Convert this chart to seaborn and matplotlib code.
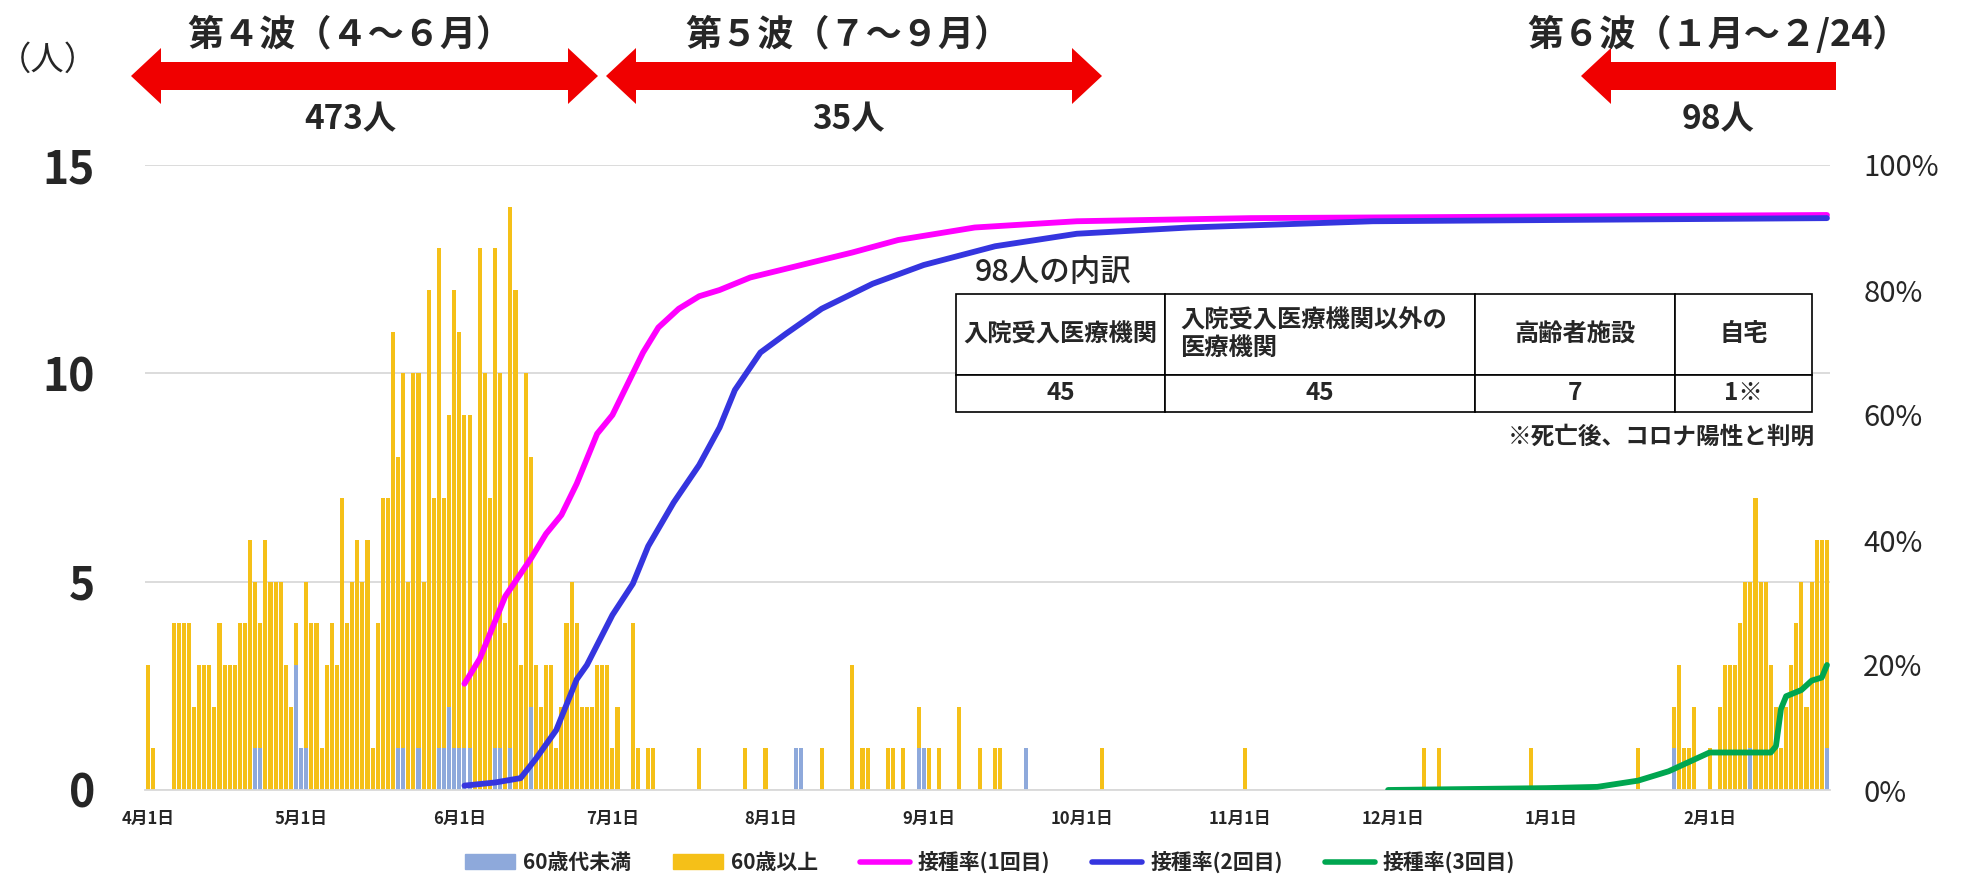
import numpy as np
import pandas as pd
import seaborn as sns
import matplotlib.pyplot as plt
from matplotlib.patches import Patch, Polygon
from matplotlib.lines import Line2D
from matplotlib.table import Table

# ---- data ----
start = pd.Timestamp("2021-04-01")
end = pd.Timestamp("2022-02-24")

# daily deaths, Apr 1 - Jun 30 (total of both age groups)
apr_jun_total = [3, 1, 0, 0, 0, 4, 4, 4, 4, 2,
                 3, 3, 3, 2, 4, 3, 3, 3, 4, 4,
                 6, 5, 4, 6, 5, 5, 5, 3, 2, 4,
                 1, 5, 4, 4, 1, 3, 4, 3, 7, 4,
                 5, 6, 5, 6, 1, 4, 7, 7, 11, 8,
                 10, 5, 10, 10, 5, 12, 7, 13, 7, 9,
                 12, 11, 9, 9, 3, 13, 10, 7, 13, 10,
                 4, 14, 12, 3, 10, 8, 3, 2, 3, 3,
                 1, 2, 4, 5, 4, 2, 2, 2, 3, 3, 3]

# sparse days from July to January
sparse_dates = ["2021-07-01", "2021-07-02", "2021-07-05", "2021-07-06", "2021-07-08",
                "2021-07-09", "2021-07-18", "2021-07-27", "2021-07-31", "2021-08-06",
                "2021-08-07", "2021-08-11", "2021-08-17", "2021-08-19", "2021-08-20",
                "2021-08-24", "2021-08-25", "2021-08-27", "2021-08-30", "2021-08-31",
                "2021-09-01", "2021-09-03", "2021-09-07", "2021-09-11", "2021-09-14",
                "2021-09-15", "2021-09-20", "2021-10-05", "2021-11-02", "2021-12-07",
                "2021-12-10", "2021-12-28", "2022-01-18", "2022-01-25", "2022-01-26",
                "2022-01-27", "2022-01-28", "2022-01-29"]
sparse_total = [1, 2, 4, 1, 1,
                1, 1, 1, 1, 1,
                1, 1, 3, 1, 1,
                1, 1, 1, 2, 1,
                1, 1, 2, 1, 1,
                1, 1, 1, 1, 1,
                1, 1, 1, 2, 3,
                1, 1, 2]

# Feb 1 - Feb 24
feb_total = [1, 0, 2, 3, 3, 3, 4, 5, 5, 7, 5, 5, 3, 2, 1, 2, 3, 4, 5, 2, 5, 6, 6, 6]

# under 60 (bottom part of the stacked bars)
under60_dates = ["2021-04-22", "2021-04-23", "2021-04-30", "2021-05-01", "2021-05-02",
                 "2021-05-20", "2021-05-21", "2021-05-24", "2021-05-28", "2021-05-29",
                 "2021-05-30", "2021-05-31", "2021-06-01", "2021-06-02", "2021-06-03",
                 "2021-06-08", "2021-06-09", "2021-06-11", "2021-06-15", "2021-08-06",
                 "2021-08-07", "2021-08-30", "2021-08-31", "2021-09-20", "2022-01-25",
                 "2022-02-09", "2022-02-24"]
under60_counts = [1, 1, 3, 1, 1,
                  1, 1, 1, 1, 1,
                  2, 1, 1, 1, 1,
                  1, 1, 1, 2, 1,
                  1, 1, 1, 1, 1,
                  1, 1]

# vaccination rate (%)
dose1_dates = ["2021-06-02", "2021-06-05", "2021-06-10", "2021-06-15", "2021-06-18",
               "2021-06-21", "2021-06-24", "2021-06-28", "2021-07-01", "2021-07-04",
               "2021-07-07", "2021-07-10", "2021-07-14", "2021-07-18", "2021-07-22",
               "2021-07-28", "2021-08-07", "2021-08-17", "2021-08-26", "2021-09-10",
               "2021-09-30", "2021-11-03", "2022-02-24"]
dose1_pct = [17, 21, 31, 37, 41, 44, 49, 57, 60, 65, 70, 74, 77, 79, 80, 82, 84, 86,
             88, 90, 91, 91.5, 92]

dose2_dates = ["2021-06-02", "2021-06-08", "2021-06-13", "2021-06-16", "2021-06-20",
               "2021-06-24", "2021-06-26", "2021-07-01", "2021-07-05", "2021-07-08",
               "2021-07-13", "2021-07-18", "2021-07-22", "2021-07-25", "2021-07-30",
               "2021-08-04", "2021-08-11", "2021-08-21", "2021-08-31", "2021-09-14",
               "2021-09-30", "2021-10-22", "2021-11-27", "2022-02-24"]
dose2_pct = [0.7, 1.2, 1.9, 5, 9.6, 17.7, 20, 28, 33, 39, 46, 52, 58, 64, 70, 73, 77,
             81, 84, 87, 89, 90, 91, 91.5]

dose3_dates = ["2021-11-30", "2021-12-31", "2022-01-10", "2022-01-18", "2022-01-24",
               "2022-01-28", "2022-02-01", "2022-02-13", "2022-02-14", "2022-02-15",
               "2022-02-16", "2022-02-19", "2022-02-21", "2022-02-23", "2022-02-24"]
dose3_pct = [0, 0.3, 0.5, 1.5, 3, 4.5, 6, 6, 7, 13, 15, 16, 17.5, 18, 20]

tick_dates = ["2021-04-01", "2021-05-01", "2021-06-01", "2021-07-01", "2021-08-01",
              "2021-09-01", "2021-10-01", "2021-11-01", "2021-12-01", "2022-01-01",
              "2022-02-01"]
tick_labels = ["4月1日", "5月1日", "6月1日", "7月1日", "8月1日", "9月1日",
               "10月1日", "11月1日", "12月1日", "1月1日", "2月1日"]

table_title = "98人の内訳"
table_headers = ["入院受入医療機関", "入院受入医療機関以外の\n医療機関", "高齢者施設", "自宅"]
table_values = ["45", "45", "7", "1※"]

# ---- build daily frame ----
days = pd.date_range(start, end)
total = pd.Series(0, index=days)
total.iloc[:91] = apr_jun_total
total[pd.to_datetime(sparse_dates)] = sparse_total
total[pd.date_range("2022-02-01", periods=len(feb_total))] = feb_total
under = pd.Series(0, index=days)
under[pd.to_datetime(under60_dates)] = under60_counts
df = pd.DataFrame({"day": np.arange(len(days)), "total": total.values, "under60": under.values})


def to_day(dates):
    return (pd.to_datetime(dates) - start).days


GOLD = "#F5C018"
LBLUE = "#8EA9DB"
PINK = "#FF00FF"
BLUE = "#3535DF"
GREEN = "#00A650"

sns.set_style("white")
plt.rcParams["font.family"] = ["Noto Sans CJK JP", "DejaVu Sans"]

W, H = 1961, 882
fig = plt.figure(figsize=(W / 100, H / 100), dpi=100)
ax = fig.add_axes([145 / W, 1 - 790 / H, (1830 - 145) / W, (790 - 165) / H])

sns.barplot(data=df, x="day", y="total", color=GOLD, saturation=1, width=0.8,
            native_scale=True, errorbar=None, linewidth=0, ax=ax)
sns.barplot(data=df, x="day", y="under60", color=LBLUE, saturation=1, width=0.8,
            native_scale=True, errorbar=None, linewidth=0, ax=ax)

ax.set_ylim(0, 15)
ax.set_yticks([0, 5, 10, 15])
ax.yaxis.grid(True, color="#d9d9d9", linewidth=1.3)
ax.set_axisbelow(True)
ax.tick_params(axis="y", length=0, pad=36, labelsize=32)
for t in ax.get_yticklabels():
    t.set_fontweight("bold")
ax.set_xticks(to_day(tick_dates))
ax.set_xticklabels(tick_labels, fontsize=12, fontweight="bold")
ax.tick_params(axis="x", length=0, pad=14)
ax.set_xlabel("")
ax.set_ylabel("")
for s in ["top", "left", "right"]:
    ax.spines[s].set_visible(False)
ax.spines["bottom"].set_color("#d9d9d9")
ax.spines["bottom"].set_linewidth(1.3)

ax2 = ax.twinx()
for dates, pct, col in [(dose1_dates, dose1_pct, PINK),
                        (dose2_dates, dose2_pct, BLUE),
                        (dose3_dates, dose3_pct, GREEN)]:
    d = pd.DataFrame({"day": to_day(dates), "pct": pct})
    sns.lineplot(data=d, x="day", y="pct", color=col, linewidth=4.2, ax=ax2)
ax2.set_ylim(0, 100)
ax2.set_yticks(range(0, 101, 20))
ax2.set_yticklabels([f"{v}%" for v in range(0, 101, 20)])
ax2.tick_params(axis="y", length=0, pad=24, labelsize=21)
ax2.set_ylabel("")
for s in ax2.spines.values():
    s.set_visible(False)
ax.set_xlim(-0.6, len(days) - 0.4)

# ---- table ----
col_w = [209, 310, 200, 137]
tx0, tx1, ty0, ty1 = 956, 1812, 294, 412
ax_l, ax_r, ax_t, ax_b = 145, 1830, 165, 790
bbox = [(tx0 - ax_l) / (ax_r - ax_l), (ax_b - ty1) / (ax_b - ax_t),
        (tx1 - tx0) / (ax_r - ax_l), (ty1 - ty0) / (ax_b - ax_t)]
tbl = Table(ax2, bbox=bbox)
for j in range(len(table_headers)):
    c = tbl.add_cell(0, j, width=col_w[j], height=81, text=table_headers[j],
                     loc="left" if j == 1 else "center", facecolor="white", edgecolor="black")
    c.PAD = 0.05
    tbl.add_cell(1, j, width=col_w[j], height=37, text=table_values[j],
                 loc="center", facecolor="white", edgecolor="black")
tbl.auto_set_font_size(False)
tbl.set_fontsize(17.5)
for c in tbl.get_celld().values():
    c.get_text().set_fontweight("bold")
    c.set_linewidth(1.2)
ax2.add_table(tbl)

fig.text(975 / W, 1 - 272 / H, table_title, fontsize=22, fontweight="medium",
         ha="left", va="center")
fig.text(1815 / W, 1 - 437 / H, "※死亡後、コロナ陽性と判明", fontsize=17,
         fontweight="bold", ha="right", va="center")


# ---- wave arrows ----
def arrow(x0, x1, y, left=True, right=True, body=14, head=28, hl=30):
    pts = []
    if left:
        pts += [(x0, y), (x0 + hl, y - head), (x0 + hl, y - body)]
    else:
        pts += [(x0, y - body)]
    if right:
        pts += [(x1 - hl, y - body), (x1 - hl, y - head), (x1, y),
                (x1 - hl, y + head), (x1 - hl, y + body)]
    else:
        pts += [(x1, y - body), (x1, y + body)]
    if left:
        pts += [(x0 + hl, y + body), (x0 + hl, y + head)]
    else:
        pts += [(x0, y + body)]
    pts = [(px / W, 1 - py / H) for px, py in pts]
    fig.add_artist(Polygon(pts, closed=True, facecolor="#F00000", edgecolor="none",
                           transform=fig.transFigure))


arrow(131, 598, 76)
arrow(606, 1102, 76)
arrow(1581, 1836, 76, right=False)

waves = [("第４波（４～６月）", "473人", 350), ("第５波（７～９月）", "35人", 848),
         ("第６波（１月～２/24）", "98人", 1718)]
for title, count, xc in waves:
    fig.text(xc / W, 1 - 35 / H, title, fontsize=26, fontweight="bold", ha="center", va="center")
    fig.text(xc / W, 1 - 120 / H, count, fontsize=24, fontweight="bold", ha="center", va="center")
fig.text(48 / W, 1 - 60 / H, "（人）", fontsize=24, ha="center", va="center")

# ---- legend ----
handles = [Patch(color=LBLUE, label="60歳代未満"),
           Patch(color=GOLD, label="60歳以上"),
           Line2D([], [], color=PINK, linewidth=4, label="接種率(1回目)"),
           Line2D([], [], color=BLUE, linewidth=4, label="接種率(2回目)"),
           Line2D([], [], color=GREEN, linewidth=4, label="接種率(3回目)")]
leg = fig.legend(handles=handles, loc="center", bbox_to_anchor=(990 / W, 1 - 862 / H),
                 ncol=5, frameon=False, fontsize=15, handlelength=2.4,
                 columnspacing=2.0, handletextpad=0.4)
for t in leg.get_texts():
    t.set_fontweight("bold")

fig.savefig("out.png", dpi=100)
